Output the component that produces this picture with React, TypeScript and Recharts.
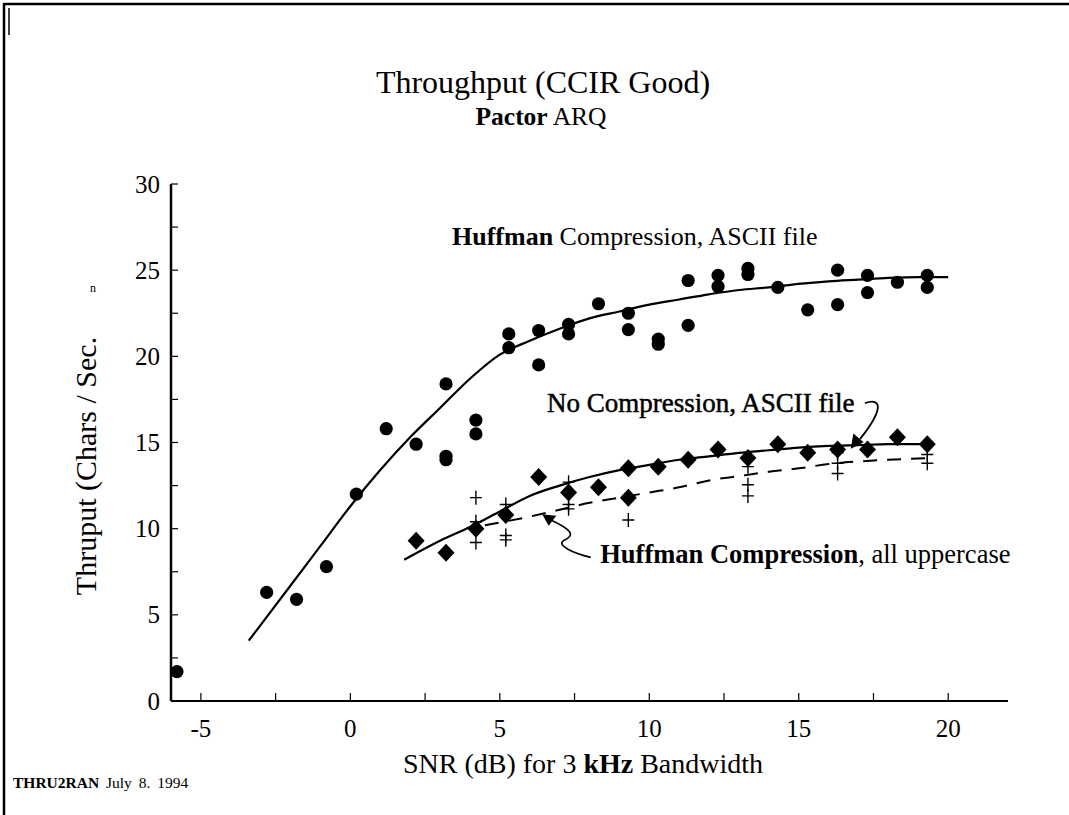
import React from "react"
import {
  ComposedChart,
  Line,
  Scatter,
  XAxis,
  YAxis,
  ReferenceDot,
} from "recharts"

const FONT = '"Liberation Serif", "Times New Roman", serif'

// Huffman compression, ASCII file (filled circles)
const huffAsciiSnr = [
  -5.8, -2.8, -1.8, -0.8, 0.2, 1.2, 2.2, 3.2, 3.2, 3.2, 4.2, 4.2, 5.3, 5.3,
  6.3, 6.3, 7.3, 7.3, 8.3, 9.3, 9.3, 10.3, 10.3, 11.3, 11.3, 12.3, 12.3, 13.3,
  13.3, 14.3, 15.3, 16.3, 16.3, 17.3, 17.3, 18.3, 19.3, 19.3,
]
const huffAsciiCps = [
  1.7, 6.3, 5.9, 7.8, 12.0, 15.8, 14.9, 18.4, 14.2, 14.0, 16.3, 15.5, 21.3,
  20.5, 21.5, 19.5, 21.85, 21.3, 23.05, 22.5, 21.55, 21.0, 20.7, 24.4, 21.8,
  24.7, 24.05, 25.1, 24.75, 24.0, 22.7, 25.0, 23.0, 24.7, 23.7, 24.3, 24.7,
  24.0,
]

// No compression, ASCII file (diamonds)
const plainSnr = [
  2.2, 3.2, 4.2, 5.2, 6.3, 7.3, 8.3, 9.3, 9.3, 10.3, 11.3, 12.3, 13.3, 14.3,
  15.3, 16.3, 17.3, 18.3, 19.3,
]
const plainCps = [
  9.3, 8.6, 10.0, 10.8, 13.0, 12.1, 12.4, 13.5, 11.8, 13.6, 14.0, 14.6, 14.1,
  14.9, 14.4, 14.6, 14.6, 15.3, 14.9,
]

// Huffman compression, all uppercase (plus marks)
const huffUpperSnr = [
  4.2, 4.2, 4.2, 5.2, 5.2, 5.2, 7.3, 7.3, 7.3, 9.3, 13.3, 13.3, 13.3, 16.3,
  16.3, 16.3, 19.3, 19.3,
]
const huffUpperCps = [
  11.8, 10.4, 9.2, 11.4, 9.6, 9.35, 12.7, 11.4, 11.15, 10.5, 13.6, 12.55, 11.9,
  14.4, 13.8, 13.2, 14.3, 13.8,
]

// hand-drawn fit curves
const fitAsciiSnr = [-3.4, -2, -1, 0, 1, 2, 3, 4, 5, 6, 7, 8, 9, 10, 11, 12, 13, 14, 15, 16, 17, 18, 19, 20]
const fitAsciiCps = [3.5, 6.7, 9.0, 11.3, 13.4, 15.3, 17.0, 18.7, 20.1, 20.9, 21.6, 22.2, 22.6, 23.0, 23.3, 23.6, 23.85, 24.0, 24.2, 24.35, 24.45, 24.55, 24.6, 24.6]

const fitPlainSnr = [1.8, 3, 4, 5, 6, 7, 8, 9, 10, 11, 12, 13, 14, 15, 16, 17, 18, 19, 19.5]
const fitPlainCps = [8.2, 9.3, 10.1, 11.0, 11.9, 12.5, 13.0, 13.4, 13.7, 14.0, 14.2, 14.4, 14.55, 14.7, 14.8, 14.85, 14.9, 14.9, 14.9]

const fitUpperSnr = [4.5, 6, 7, 8, 9, 10, 11, 12, 13, 14, 15, 16, 17, 18, 19.4]
const fitUpperCps = [10.2, 10.7, 11.1, 11.5, 11.8, 12.1, 12.4, 12.8, 13.05, 13.3, 13.5, 13.75, 13.9, 14.0, 14.1]

const xTicks = [-5, -2.5, 0, 2.5, 5, 7.5, 10, 12.5, 15, 17.5, 20]
const yTicks = [0, 2.5, 5, 7.5, 10, 12.5, 15, 17.5, 20, 22.5, 25, 27.5, 30]

const zip = (xs: number[], ys: number[]) => xs.map((x, i) => ({ x, y: ys[i] }))

const huffAscii = zip(huffAsciiSnr, huffAsciiCps)
const plain = zip(plainSnr, plainCps)
const huffUpper = zip(huffUpperSnr, huffUpperCps)
const fitAscii = zip(fitAsciiSnr, fitAsciiCps)
const fitPlain = zip(fitPlainSnr, fitPlainCps)
const fitUpper = zip(fitUpperSnr, fitUpperCps)

const DotShape = (p: any) => <circle cx={p.cx} cy={p.cy} r={6.6} fill="#000" />

const DiamondShape = (p: any) => {
  const { cx, cy } = p
  return (
    <polygon
      points={`${cx},${cy - 9} ${cx + 8.5},${cy} ${cx},${cy + 9} ${cx - 8.5},${cy}`}
      fill="#000"
    />
  )
}

const PlusShape = (p: any) => {
  const { cx, cy } = p
  return (
    <path
      d={`M${cx - 6},${cy}H${cx + 6}M${cx},${cy - 7}V${cy + 7}`}
      stroke="#000"
      strokeWidth={1.4}
      fill="none"
    />
  )
}

const Y_MARGIN = 11
const YTick = (p: any) => {
  const v = p.payload.value
  const ax = p.x + Y_MARGIN
  return (
    <g>
      <line x1={ax} y1={p.y} x2={ax + 7} y2={p.y} stroke="#000" strokeWidth={1.2} />
      {v % 5 === 0 && (
        <text x={p.x} y={p.y} dy="0.34em" textAnchor="end" fontFamily={FONT} fontSize={25} fill="#000">
          {v}
        </text>
      )}
    </g>
  )
}

const X_MARGIN = 27
const XTick = (p: any) => {
  const v = p.payload.value
  const ay = p.y - X_MARGIN
  return (
    <g>
      <line x1={p.x} y1={ay} x2={p.x} y2={ay - 8} stroke="#000" strokeWidth={1.2} />
      {v % 5 === 0 && (
        <text x={p.x} y={p.y} dy="0.35em" textAnchor="middle" fontFamily={FONT} fontSize={25} fill="#000">
          {v}
        </text>
      )}
    </g>
  )
}

const Note = ({ cx, cy, bold, rest, size, heavy }: any) => (
  <text
    x={cx}
    y={cy}
    fontFamily={FONT}
    fontSize={size}
    fill="#000"
    stroke={heavy ? "#000" : undefined}
    strokeWidth={heavy ? 0.5 : undefined}
  >
    {bold && <tspan fontWeight="bold">{bold}</tspan>}
    {rest}
  </text>
)

// curly arrow ending on the solid diamond curve
const HookArrow = ({ cx, cy }: any) => (
  <g stroke="#000" fill="none" strokeWidth={1.8}>
    <path d={`M${cx + 13},${cy - 44} C${cx + 30},${cy - 50} ${cx + 32},${cy - 38} ${cx + 8},${cy - 8}`} />
    <polygon points={`${cx},${cy} ${cx + 2},${cy - 12} ${cx + 10},${cy - 5}`} fill="#000" />
  </g>
)

// squiggle from the uppercase label up to the dashed curve
const SquiggleArrow = ({ cx, cy }: any) => (
  <g stroke="#000" fill="none" strokeWidth={1.6}>
    <path
      d={`M${cx + 47},${cy + 42} C${cx + 30},${cy + 38} ${cx + 12},${cy + 30} ${cx + 20},${cy + 25} C${cx + 32},${cy + 20} ${cx + 28},${cy + 14} ${cx + 6},${cy + 4}`}
    />
    <polygon points={`${cx},${cy} ${cx + 11},${cy + 1} ${cx + 5},${cy + 9}`} fill="#000" />
  </g>
)

export default function App() {
  return (
    <div
      style={{
        position: "absolute",
        left: 0,
        top: 0,
        width: 1069,
        height: 815,
        background: "#fff",
      }}
    >
      <ComposedChart
        width={1069}
        height={815}
        margin={{ top: 184, right: 61, bottom: 84, left: 111 }}
      >
        <XAxis
          dataKey="x"
          type="number"
          domain={[-6, 22]}
          ticks={xTicks}
          tickSize={0}
          tickMargin={X_MARGIN}
          tick={<XTick />}
          stroke="#000"
          strokeWidth={2}
          allowDataOverflow
        />
        <YAxis
          type="number"
          domain={[0, 30]}
          ticks={yTicks}
          tickSize={0}
          tickMargin={Y_MARGIN}
          tick={<YTick />}
          width={60}
          stroke="#000"
          strokeWidth={2.5}
          allowDataOverflow
        />
        <Line data={fitAscii} dataKey="y" type="monotone" stroke="#000" strokeWidth={2.2} dot={false} isAnimationActive={false} />
        <Line data={fitPlain} dataKey="y" type="monotone" stroke="#000" strokeWidth={2.2} dot={false} isAnimationActive={false} />
        <Line data={fitUpper} dataKey="y" type="monotone" stroke="#000" strokeWidth={2} strokeDasharray="14 10" dot={false} isAnimationActive={false} />
        <Scatter data={huffAscii} dataKey="y" shape={<DotShape />} isAnimationActive={false} />
        <Scatter data={plain} dataKey="y" shape={<DiamondShape />} isAnimationActive={false} />
        <Scatter data={huffUpper} dataKey="y" shape={<PlusShape />} isAnimationActive={false} />
        <ReferenceDot x={3.4} y={26.45} r={0} shape={(p: any) => <Note cx={p.cx} cy={p.cy} size={26} bold="Huffman" rest=" Compression, ASCII file" />} />
        <ReferenceDot x={6.58} y={16.75} r={0} shape={(p: any) => <Note cx={p.cx} cy={p.cy} size={27} heavy rest="No Compression, ASCII file" />} />
        <ReferenceDot x={8.36} y={7.98} r={0} shape={(p: any) => <Note cx={p.cx} cy={p.cy} size={26.5} bold="Huffman Compression" rest=", all uppercase" />} />
        <ReferenceDot x={16.78} y={14.73} r={0} shape={(p: any) => <HookArrow cx={p.cx} cy={p.cy} />} />
        <ReferenceDot x={6.47} y={10.77} r={0} shape={(p: any) => <SquiggleArrow cx={p.cx} cy={p.cy} />} />
      </ComposedChart>

      <svg
        width={1069}
        height={815}
        style={{ position: "absolute", left: 0, top: 0, pointerEvents: "none" }}
      >
        <line x1={4} y1={4} x2={1069} y2={4} stroke="#000" strokeWidth={2.5} />
        <line x1={4} y1={3} x2={4} y2={815} stroke="#000" strokeWidth={2.5} />
        <line x1={9} y1={8} x2={9} y2={35} stroke="#000" strokeWidth={1.5} />
        <text x={543} y={93} textAnchor="middle" fontFamily={FONT} fontSize={32} fill="#000">
          Throughput (CCIR Good)
        </text>
        <text x={541} y={125} textAnchor="middle" fontFamily={FONT} fontSize={25.5} fill="#000">
          <tspan fontWeight="bold">Pactor</tspan> ARQ
        </text>
        <text
          transform="translate(96,466) rotate(-90)"
          textAnchor="middle"
          fontFamily={FONT}
          fontSize={30}
          fill="#000"
        >
          Thruput (Chars / Sec.
        </text>
        <text x={90} y={292} fontFamily={FONT} fontSize={12} fill="#000">
          n
        </text>
        <text x={583} y={773} textAnchor="middle" fontFamily={FONT} fontSize={28} fill="#000">
          SNR (dB) for 3 <tspan fontWeight="bold">kHz</tspan> Bandwidth
        </text>
        <text x={13} y={788} fontFamily={FONT} fontSize={15.5} fill="#000" wordSpacing={3}>
          <tspan fontWeight="bold">THRU2RAN</tspan> July 8. 1994
        </text>
      </svg>
    </div>
  )
}
